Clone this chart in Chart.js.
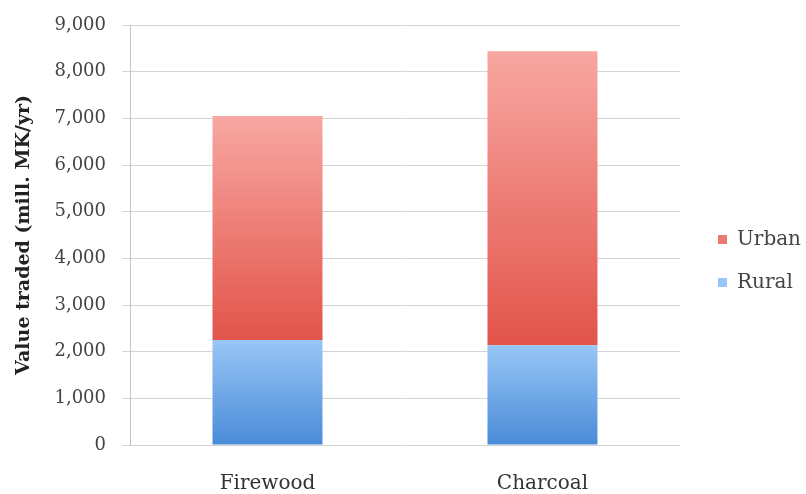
<!DOCTYPE html>
<html>
<head>
<meta charset="utf-8">
<script src="https://cdn.jsdelivr.net/npm/chart.js@4"></script>
<style>
    html, body { margin: 0; padding: 0; background: #fff; }
    #wrap { width: 806px; height: 494px; }
</style>
</head>
<body>
<div id="wrap"><canvas id="trade-chart" width="806" height="494"></canvas></div>
<script>
// Value traded per fuel type, million MK per year
const categories = ['Firewood', 'Charcoal'];
const ruralValues = [2250, 2140];
const urbanValues = [4800, 6300];
const yTicks = [0, 1000, 2000, 3000, 4000, 5000, 6000, 7000, 8000, 9000];

const SERIF = '"DejaVu Serif", "Liberation Serif", serif';

// Vertical gradient spanning one stacked segment
function segmentGradient(ctx, base, values, topColor, bottomColor) {
    const chart = ctx.chart;
    if (!chart.chartArea || ctx.type !== 'data') return bottomColor;
    const y = chart.scales.y;
    const lo = base[ctx.dataIndex];
    const hi = lo + values[ctx.dataIndex];
    const yTop = y.getPixelForValue(hi);
    const yBottom = y.getPixelForValue(lo);
    const g = chart.ctx.createLinearGradient(0, yTop, 0, yBottom);
    g.addColorStop(0, topColor);
    g.addColorStop(1, bottomColor);
    return g;
}

const zeros = categories.map(() => 0);

new Chart(document.getElementById('trade-chart'), {
    type: 'bar',
    data: {
        labels: categories,
        datasets: [
            {
                label: 'Rural',
                data: ruralValues,
                backgroundColor: ctx => segmentGradient(ctx, zeros, ruralValues, '#98c6f6', '#4a8bd8'),
                borderWidth: 0
            },
            {
                label: 'Urban',
                data: urbanValues,
                backgroundColor: ctx => segmentGradient(ctx, ruralValues, urbanValues, '#f8a7a2', '#e2544a'),
                borderWidth: 0
            }
        ]
    },
    options: {
        responsive: false,
        animation: false,
        layout: { padding: { top: 16, left: 0, right: -5, bottom: 0 } },
        datasets: {
            bar: { categoryPercentage: 1, barPercentage: 0.4 }
        },
        scales: {
            x: {
                stacked: true,
                grid: { display: false },
                border: { display: false },
                ticks: {
                    color: '#333',
                    padding: 19,
                    font: { family: SERIF, size: 20 }
                },
                afterFit: s => { s.height = 49; }
            },
            y: {
                stacked: true,
                min: 0,
                max: 9000,
                afterBuildTicks: axis => { axis.ticks = yTicks.map(v => ({ value: v })); },
                afterFit: s => { s.width = 130; },
                grid: { color: '#d4d4d4', lineWidth: 1, tickLength: 8 },
                border: { color: '#c4c4c4' },
                ticks: {
                    color: '#444',
                    padding: 16,
                    font: { family: SERIF, size: 18, lineHeight: 1 },
                    callback: v => v.toLocaleString('en-US')
                },
                title: {
                    display: true,
                    text: 'Value traded (mill. MK/yr)',
                    color: '#222',
                    padding: { top: 13, bottom: 6 },
                    font: { family: SERIF, size: 19, weight: 'bold' }
                }
            },
            // spacer between plot and legend
            gap: {
                type: 'linear',
                position: 'right',
                display: true,
                grid: { display: false },
                border: { display: false },
                ticks: { display: false },
                afterFit: s => { s.width = 15; }
            }
        },
        plugins: {
            legend: {
                position: 'right',
                reverse: true,
                // blank title nudges the entries down a little
                title: { display: true, text: ' ', padding: 2, font: { size: 8, lineHeight: 1 } },
                labels: {
                    color: '#444',
                    boxWidth: 9,
                    boxHeight: 9,
                    padding: 23,
                    font: { family: SERIF, size: 20 }
                }
            },
            tooltip: { enabled: false }
        }
    }
});
</script>
</body>
</html>
